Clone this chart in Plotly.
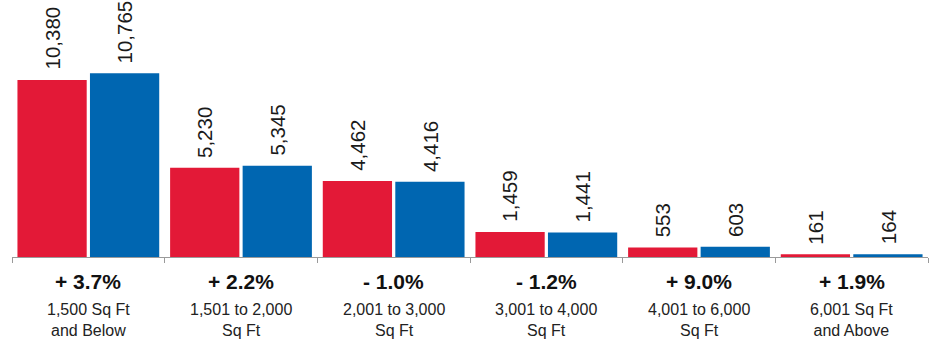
import plotly.graph_objects as go

categories = ["1,500 Sq Ft<br>and Below", "1,501 to 2,000<br>Sq Ft", "2,001 to 3,000<br>Sq Ft",
              "3,001 to 4,000<br>Sq Ft", "4,001 to 6,000<br>Sq Ft", "6,001 Sq Ft<br>and Above"]
prior_year = [10380, 5230, 4462, 1459, 553, 161]
current_year = [10765, 5345, 4416, 1441, 603, 164]
pct_change = ["+ 3.7%", "+ 2.2%", "- 1.0%", "- 1.2%", "+ 9.0%", "+ 1.9%"]

RED = "#E31937"
BLUE = "#0066B1"
FONT = "Liberation Sans, Arial, sans-serif"

fig = go.Figure()
fig.add_trace(go.Bar(x=categories, y=prior_year, marker=dict(color=RED, line=dict(width=0)),
                     name="Prior", hoverinfo="skip"))
fig.add_trace(go.Bar(x=categories, y=current_year, marker=dict(color=BLUE, line=dict(width=0)),
                     name="Current", hoverinfo="skip"))

bargap = 0.05
slot = (1 - bargap) / 2
annotations = []
for i, cat in enumerate(categories):
    for off, val in ((-slot / 2, prior_year[i]), (slot / 2, current_year[i])):
        annotations.append(dict(x=i + off, y=val, xref="x", yref="y", text=f"{val:,}",
                                textangle=-90, showarrow=False, yanchor="bottom", xanchor="center",
                                yshift=8, font=dict(family=FONT, size=20.5, color="#1a1a1a")))
    annotations.append(dict(x=i, y=0, xref="x", yref="paper", text=f"<b>{pct_change[i]}</b>",
                            showarrow=False, yanchor="middle", xanchor="center", yshift=-24,
                            font=dict(family=FONT, size=21, color="#111111")))
    annotations.append(dict(x=i, y=0, xref="x", yref="paper", text=cat,
                            showarrow=False, yanchor="middle", xanchor="center", yshift=-63,
                            font=dict(family=FONT, size=16, color="#222222")))

fig.update_layout(
    width=936, height=341,
    margin=dict(l=12, r=8, t=0, b=84),
    paper_bgcolor="white", plot_bgcolor="white",
    barmode="group", bargap=bargap, bargroupgap=0.045,
    showlegend=False,
    annotations=annotations,
    xaxis=dict(type="category", showticklabels=False, ticks="outside", tickson="boundaries",
               ticklen=5, tickcolor="#9a9a9a", tickwidth=1, showline=True, linecolor="#9a9a9a",
               linewidth=1, showgrid=False, zeroline=False, fixedrange=True),
    yaxis=dict(range=[0, 15065], visible=False, showgrid=False, zeroline=False, fixedrange=True),
)

fig.write_html("out.html")
